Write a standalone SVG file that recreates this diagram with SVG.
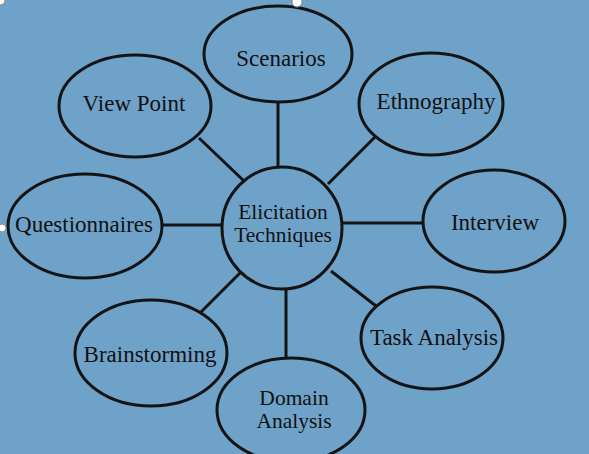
<svg xmlns="http://www.w3.org/2000/svg" width="589" height="454" viewBox="0 0 589 454">
<style>
.n{fill:none;stroke:#141414;stroke-width:3}
.t{font-family:"Liberation Serif","Times New Roman",serif;font-size:23px;fill:#111;text-anchor:middle}
.t2{font-size:21.5px}
.c line{stroke:#141414;stroke-width:3}
.h{fill:#fff;stroke:#888;stroke-width:1}
</style>
<rect width="589" height="454" fill="#6fa2c9"/>
<g class="c" id="connectors">
<line x1="278" y1="102" x2="278" y2="168"/>
<line x1="199" y1="138" x2="244" y2="181"/>
<line x1="375" y1="137" x2="328" y2="184"/>
<line x1="161" y1="225" x2="222" y2="225"/>
<line x1="342" y1="223" x2="424" y2="223"/>
<line x1="201" y1="312" x2="240" y2="273"/>
<line x1="331" y1="271" x2="376" y2="306"/>
<line x1="286" y1="288" x2="286" y2="358"/>
</g>
<g id="center"><ellipse class="n" cx="282" cy="228" rx="60" ry="61"/><text class="t t2" x="283" y="219">Elicitation</text><text class="t t2" x="283" y="242">Techniques</text></g>
<g id="scenarios"><ellipse class="n" cx="278" cy="54" rx="74" ry="48"/><text class="t" x="281" y="66">Scenarios</text></g>
<g id="viewpoint"><ellipse class="n" cx="135" cy="106" rx="76" ry="51"/><text class="t" x="134" y="111">View Point</text></g>
<g id="ethnography"><ellipse class="n" cx="431" cy="104" rx="72" ry="51"/><text class="t" x="436" y="109">Ethnography</text></g>
<g id="questionnaires"><ellipse class="n" cx="85" cy="226" rx="77" ry="52"/><text class="t" x="84" y="232">Questionnaires</text></g>
<g id="interview"><ellipse class="n" cx="494" cy="221" rx="71" ry="51"/><text class="t" x="495" y="230">Interview</text></g>
<g id="brainstorming"><ellipse class="n" cx="151" cy="353" rx="76" ry="53"/><text class="t" x="150" y="362">Brainstorming</text></g>
<g id="taskanalysis"><ellipse class="n" cx="432" cy="338" rx="71" ry="51"/><text class="t" x="434" y="345">Task Analysis</text></g>
<g id="domainanalysis"><ellipse class="n" cx="291" cy="410" rx="74" ry="52"/><text class="t t2" x="294" y="405">Domain</text><text class="t t2" x="294" y="428">Analysis</text></g>
<circle class="h" cx="297" cy="2" r="5"/>
<circle class="h" cx="2" cy="228" r="4"/>
<circle class="h" cx="0" cy="0" r="5"/>
</svg>
